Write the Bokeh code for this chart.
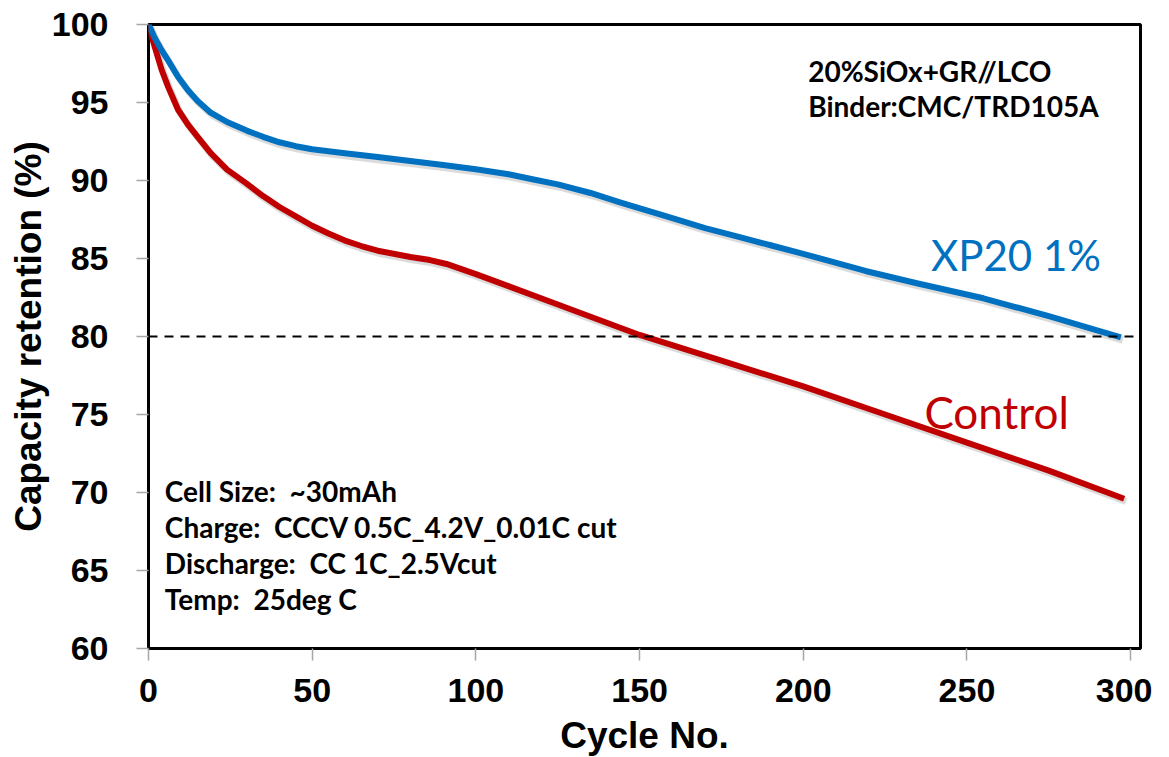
from bokeh.plotting import figure
from bokeh.models import Range1d, ColumnDataSource, Span, FixedTicker, Label
from bokeh.transform import dodge
from bokeh.embed import file_html
from bokeh.resources import INLINE

# ---- data ----
xp20_cycles = [0, 1, 2, 4, 6, 9, 12, 15, 19, 24, 30, 35, 40, 45, 50, 60, 70, 80, 90, 100,
               110, 118, 125, 135, 144, 159, 170, 180, 190, 200, 219, 235, 255, 275, 297]
xp20_ret = [100, 99.55, 99.1, 98.35, 97.7, 96.65, 95.8, 95.1, 94.35, 93.75, 93.2, 92.8, 92.45, 92.2, 92.0,
            91.75, 91.5, 91.25, 91.0, 90.72, 90.4, 90.05, 89.75, 89.2, 88.6, 87.65, 86.95, 86.4, 85.85, 85.3,
            84.2, 83.4, 82.45, 81.3, 79.95]

ctrl_cycles = [0, 1, 2, 4, 6, 9, 12, 15, 19, 24, 30, 35, 40, 45, 50, 55, 60, 65, 70, 80, 86, 91,
               100, 125, 150, 175, 200, 225, 250, 275, 298]
ctrl_ret = [100, 99.2, 98.5, 97.1, 96.0, 94.55, 93.6, 92.8, 91.75, 90.7, 89.8, 89.0, 88.3, 87.7, 87.1,
            86.6, 86.15, 85.8, 85.5, 85.1, 84.9, 84.65, 84.0, 82.05, 80.1, 78.45, 76.8, 75.0, 73.2, 71.4, 69.6]

x_ticks = [0, 50, 100, 150, 200, 250, 300]
y_ticks = [60, 65, 70, 75, 80, 85, 90, 95, 100]
threshold = 80

info_top = ["20%SiOx+GR//LCO", "Binder:CMC/TRD105A"]
info_bottom = ["Cell Size:\u00a0 ~30mAh", "Charge:\u00a0 CCCV 0.5C_4.2V_0.01C cut",
               "Discharge:\u00a0 CC 1C_2.5Vcut", "Temp:\u00a0 25deg C"]

BLUE = "#0070C0"
RED = "#C00000"

p = figure(frame_width=992, frame_height=624, output_backend="svg", toolbar_location=None,
           x_range=Range1d(0, 303), y_range=Range1d(60, 100),
           min_border_left=148, min_border_top=24, min_border_right=12, min_border_bottom=96)
p.background_fill_color = "white"
p.border_fill_color = "white"
p.outline_line_color = "black"
p.outline_line_width = 3
p.xgrid.visible = False
p.ygrid.visible = False

for ax in (p.xaxis[0], p.yaxis[0]):
    ax.axis_line_color = None
    ax.major_tick_line_color = "#A6A6A6"
    ax.major_tick_line_width = 1.5
    ax.major_tick_out = 12
    ax.major_tick_in = 0
    ax.minor_tick_line_color = None
    ax.major_label_text_font = "Liberation Sans"
    ax.major_label_text_font_style = "bold"
    ax.major_label_text_font_size = "34px"
    ax.major_label_text_color = "black"
    ax.axis_label_text_font = "Liberation Sans"
    ax.axis_label_text_font_style = "bold"
    ax.axis_label_text_font_size = "37px"
    ax.axis_label_text_color = "black"

p.xaxis.ticker = FixedTicker(ticks=x_ticks)
p.yaxis.ticker = FixedTicker(ticks=y_ticks)
p.xaxis.axis_label = "Cycle No."
p.yaxis.axis_label = "Capacity retention (%)"
p.xaxis.major_label_standoff = 18
p.yaxis.major_label_standoff = 28
p.xaxis.axis_label_standoff = 10
p.yaxis.axis_label_standoff = 0

p.add_layout(Span(location=threshold, dimension="width", line_color="black",
                  line_width=2, line_dash="9 7"))

src_b = ColumnDataSource(dict(x=xp20_cycles, y=xp20_ret))
src_r = ColumnDataSource(dict(x=ctrl_cycles, y=ctrl_ret))

# soft shadows
for src in (src_b, src_r):
    p.line(x=dodge("x", 0.6), y=dodge("y", -0.18), source=src, line_color="#888888",
           line_alpha=0.3, line_width=7, line_join="round")

p.line("x", "y", source=src_r, line_color=RED, line_width=6, line_join="round")
p.line("x", "y", source=src_b, line_color=BLUE, line_width=6, line_join="round")

# series labels
p.add_layout(Label(x=239, y=85.2, text="XP20 1%", text_color=BLUE, text_font="Lato",
                   text_font_size="42px", text_baseline="middle"))
p.add_layout(Label(x=237, y=75.15, text="Control", text_color=RED, text_font="Lato",
                   text_font_size="44px", text_baseline="middle"))

# info texts
for i, t in enumerate(info_top):
    p.add_layout(Label(x=201.5, y=97.0 - i * 2.25, text=t, text_color="black", text_font="Lato",
                       text_font_style="bold", text_font_size="28px", text_baseline="middle"))
for i, t in enumerate(info_bottom):
    p.add_layout(Label(x=5.0, y=70.08 - i * 2.3, text=t, text_color="black", text_font="Lato",
                       text_font_style="bold", text_font_size="28px", text_baseline="middle"))

open("out.html", "w").write(file_html(p, INLINE))
